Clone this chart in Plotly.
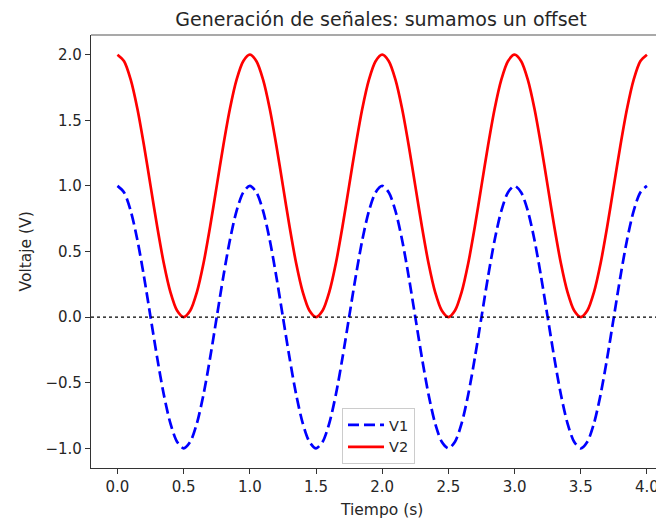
import plotly.graph_objects as go

# Data
tiempo = [0.0, 0.05, 0.1, 0.15, 0.2, 0.25, 0.3, 0.35, 0.4, 0.45,
          0.5, 0.55, 0.6, 0.65, 0.7, 0.75, 0.8, 0.85, 0.9, 0.95,
          1.0, 1.05, 1.1, 1.15, 1.2, 1.25, 1.3, 1.35, 1.4, 1.45,
          1.5, 1.55, 1.6, 1.65, 1.7, 1.75, 1.8, 1.85, 1.9, 1.95,
          2.0, 2.05, 2.1, 2.15, 2.2, 2.25, 2.3, 2.35, 2.4, 2.45,
          2.5, 2.55, 2.6, 2.65, 2.7, 2.75, 2.8, 2.85, 2.9, 2.95,
          3.0, 3.05, 3.1, 3.15, 3.2, 3.25, 3.3, 3.35, 3.4, 3.45,
          3.5, 3.55, 3.6, 3.65, 3.7, 3.75, 3.8, 3.85, 3.9, 3.95, 4.0]
v1 = [1.0, 0.95, 0.81, 0.59, 0.31, 0.0, -0.31, -0.59, -0.81, -0.95,
      -1.0, -0.95, -0.81, -0.59, -0.31, 0.0, 0.31, 0.59, 0.81, 0.95,
      1.0, 0.95, 0.81, 0.59, 0.31, 0.0, -0.31, -0.59, -0.81, -0.95,
      -1.0, -0.95, -0.81, -0.59, -0.31, 0.0, 0.31, 0.59, 0.81, 0.95,
      1.0, 0.95, 0.81, 0.59, 0.31, 0.0, -0.31, -0.59, -0.81, -0.95,
      -1.0, -0.95, -0.81, -0.59, -0.31, 0.0, 0.31, 0.59, 0.81, 0.95,
      1.0, 0.95, 0.81, 0.59, 0.31, 0.0, -0.31, -0.59, -0.81, -0.95,
      -1.0, -0.95, -0.81, -0.59, -0.31, 0.0, 0.31, 0.59, 0.81, 0.95, 1.0]
v2 = [2.0, 1.95, 1.81, 1.59, 1.31, 1.0, 0.69, 0.41, 0.19, 0.05,
      0.0, 0.05, 0.19, 0.41, 0.69, 1.0, 1.31, 1.59, 1.81, 1.95,
      2.0, 1.95, 1.81, 1.59, 1.31, 1.0, 0.69, 0.41, 0.19, 0.05,
      0.0, 0.05, 0.19, 0.41, 0.69, 1.0, 1.31, 1.59, 1.81, 1.95,
      2.0, 1.95, 1.81, 1.59, 1.31, 1.0, 0.69, 0.41, 0.19, 0.05,
      0.0, 0.05, 0.19, 0.41, 0.69, 1.0, 1.31, 1.59, 1.81, 1.95,
      2.0, 1.95, 1.81, 1.59, 1.31, 1.0, 0.69, 0.41, 0.19, 0.05,
      0.0, 0.05, 0.19, 0.41, 0.69, 1.0, 1.31, 1.59, 1.81, 1.95, 2.0]
x_ticks = [0.0, 0.5, 1.0, 1.5, 2.0, 2.5, 3.0, 3.5, 4.0]
y_ticks = [-1.0, -0.5, 0.0, 0.5, 1.0, 1.5, 2.0]

FONT = "DejaVu Sans"
TXT = "#262626"
W, H = 664, 520
OFF = 8  # page body margin offset
L, T = 91 - OFF, 35 - OFF
PW, PH = 664 - 91, 468 - 35
R = W - L - PW
B = H - T - PH

fig = go.Figure()
fig.add_trace(go.Scatter(x=tiempo, y=v1, mode="lines", name="V1",
                         line=dict(color="#0000ff", width=2.7, dash="11px,5px",
                                   shape="spline", smoothing=0.8)))
fig.add_trace(go.Scatter(x=tiempo, y=v2, mode="lines", name="V2",
                         line=dict(color="#ff0000", width=2.7,
                                   shape="spline", smoothing=0.8)))

# horizontal dotted line at 0
fig.add_shape(type="line", xref="paper", yref="y", x0=0, x1=1, y0=0, y1=0,
              line=dict(color="#000000", width=1.4, dash="dot"), layer="above")
# top spine
fig.add_shape(type="line", xref="paper", yref="paper", x0=0, x1=1, y0=1, y1=1,
              line=dict(color="#555555", width=1.2))

# axis titles as annotations for exact placement
fig.add_annotation(text="Tiempo (s)", xref="paper", yref="paper",
                   x=(381 - 91) / PW, y=0, yshift=-(510 - 468),
                   xanchor="center", yanchor="middle", showarrow=False,
                   font=dict(family=FONT, size=15.5, color=TXT))
fig.add_annotation(text="Voltaje (V)", xref="paper", yref="paper",
                   x=0, xshift=-(91 - 25), y=0.5, textangle=-90,
                   xanchor="center", yanchor="middle", showarrow=False,
                   font=dict(family=FONT, size=15.5, color=TXT))

fig.update_layout(
    width=W, height=H,
    margin=dict(l=L, r=R, t=T, b=B, autoexpand=False),
    paper_bgcolor="white", plot_bgcolor="white",
    font=dict(family=FONT, size=15, color=TXT),
    title=dict(text="Generación de señales: sumamos un offset",
               x=(381 - OFF) / W, xref="container", xanchor="center",
               y=1 - (19 - OFF) / H, yref="container", yanchor="middle",
               font=dict(family=FONT, size=19, color=TXT)),
    showlegend=True,
    legend=dict(x=(342 - 91) / PW, y=(468 - 408) / PH, xanchor="left", yanchor="top",
                bgcolor="rgba(255,255,255,0.85)", bordercolor="#cccccc", borderwidth=1,
                font=dict(family=FONT, size=14.5, color=TXT),
                itemwidth=36, tracegroupgap=2),
    xaxis=dict(range=[-0.2, 4.129], tickvals=x_ticks, tickformat=".1f",
               showgrid=False, zeroline=False, showline=True, linecolor="#333333",
               linewidth=1.2, ticks="outside", ticklen=5, tickcolor="#333333",
               automargin=False,
               tickfont=dict(family=FONT, size=15, color=TXT)),
    yaxis=dict(range=[-1.15, 2.15], tickvals=y_ticks, tickformat=".1f",
               showgrid=False, zeroline=False, showline=True, linecolor="#333333",
               linewidth=1.2, ticks="outside", ticklen=5, tickcolor="#333333",
               automargin=False,
               tickfont=dict(family=FONT, size=15, color=TXT)),
)

fig.write_html("out.html")
